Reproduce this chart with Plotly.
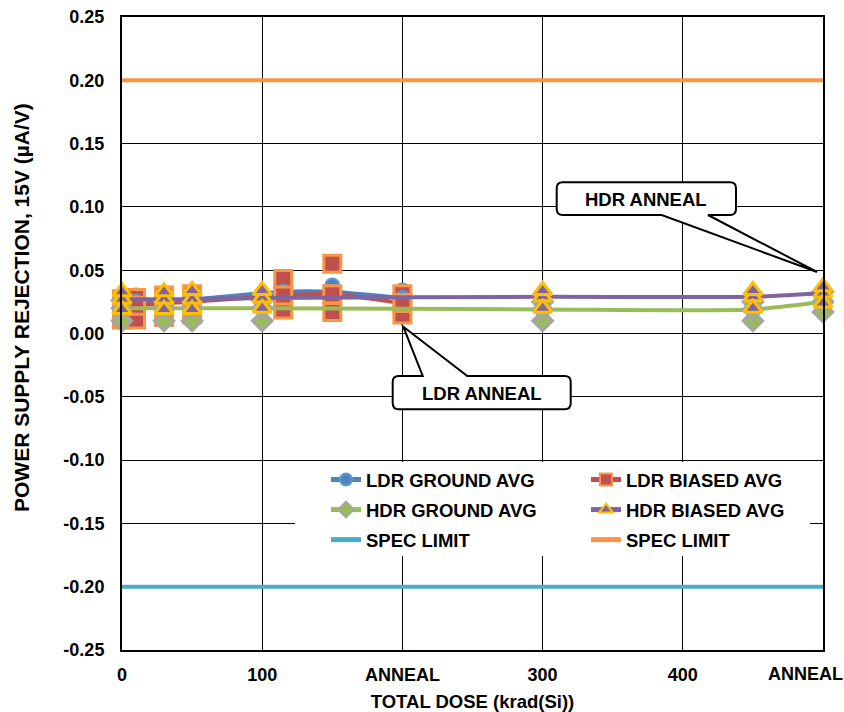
import plotly.graph_objects as go

# ---------------- data ----------------
ldr_dose = [0, 10, 30, 50, 115, 150, 200]
hdr_dose = [0, 30, 50, 100, 300, 450, 500]

ldr_ground_hi = [0.029, 0.030, 0.031, 0.033, 0.036, 0.038, 0.034]
ldr_ground_lo = [0.019, 0.020, 0.021, 0.021, 0.029, 0.028, 0.022]
ldr_ground_avg = [0.025, 0.025, 0.026, 0.027, 0.033, 0.033, 0.028]

ldr_biased_hi = [0.027, 0.028, 0.030, 0.031, 0.043, 0.055, 0.031]
ldr_biased_lo = [0.011, 0.011, 0.013, 0.015, 0.019, 0.017, 0.015]
ldr_biased_avg = [0.022, 0.022, 0.024, 0.025, 0.030, 0.031, 0.024]

hdr_ground_hi = [0.026, 0.026, 0.026, 0.026, 0.025, 0.025, 0.033]
hdr_ground_lo = [0.010, 0.010, 0.010, 0.010, 0.010, 0.010, 0.017]
hdr_ground_avg = [0.020, 0.020, 0.020, 0.020, 0.019, 0.019, 0.025]

hdr_biased_hi = [0.033, 0.033, 0.034, 0.034, 0.034, 0.034, 0.037]
hdr_biased_lo = [0.019, 0.019, 0.019, 0.020, 0.020, 0.020, 0.024]
hdr_biased_avg = [0.027, 0.027, 0.027, 0.028, 0.029, 0.029, 0.032]

spec_x = [0, 500]
spec_low = [-0.20, -0.20]
spec_high = [0.20, 0.20]

x_tickvals = [0, 100, 200, 300, 400, 500]
x_ticktext = ["0", "100", "ANNEAL", "300", "400", ""]
x_last_label = "ANNEAL"
y_tickvals = [0.25, 0.20, 0.15, 0.10, 0.05, 0.00, -0.05, -0.10, -0.15, -0.20, -0.25]
y_ticktext = ["0.25", "0.20", "0.15", "0.10", "0.05", "0.00", "-0.05", "-0.10", "-0.15", "-0.20", "-0.25"]

# ---------------- styles ----------------
FONT = "Liberation Sans, Arial, sans-serif"
FS = 18.5
FT = 18
BLUE, RED, GREEN, PURPLE = "#4F81BD", "#C0504D", "#9BBB59", "#8064A2"
ORANGE, YELLOW, GRAY, CYAN = "#F79646", "#FFC000", "#A5A5A5", "#4BACC6"

styles = {
    "ldr_g": dict(symbol="circle", size=14, color=BLUE, line=dict(color="#5B9BD5", width=2)),
    "ldr_b": dict(symbol="square", size=17, color=RED, line=dict(color=ORANGE, width=3)),
    "hdr_g": dict(symbol="diamond", size=15, color=GREEN, line=dict(color=GRAY, width=3)),
    "hdr_b": dict(symbol="triangle-up", size=16, color=PURPLE, line=dict(color=YELLOW, width=3)),
}

fig = go.Figure()


def units(x, hi, lo, key):
    for arr in (hi, lo):
        fig.add_trace(go.Scatter(x=x, y=arr, mode="markers", marker=styles[key],
                                 showlegend=False, cliponaxis=False, hoverinfo="skip"))


def avg(x, y, key, color, name, legend):
    fig.add_trace(go.Scatter(x=x, y=y, mode="lines+markers", name=name, legendgroup=name,
                             line=dict(color=color, width=4, shape="spline", smoothing=0.6),
                             marker=styles[key], cliponaxis=False, legend=legend))


units(ldr_dose, ldr_ground_hi, ldr_ground_lo, "ldr_g")
units(ldr_dose, ldr_biased_hi, ldr_biased_lo, "ldr_b")
avg(ldr_dose, ldr_ground_avg, "ldr_g", BLUE, "LDR GROUND AVG", "legend")
avg(ldr_dose, ldr_biased_avg, "ldr_b", RED, "LDR BIASED AVG", "legend2")
units(hdr_dose, hdr_ground_hi, hdr_ground_lo, "hdr_g")
avg(hdr_dose, hdr_ground_avg, "hdr_g", GREEN, "HDR GROUND AVG", "legend")
avg(hdr_dose, hdr_biased_avg, "hdr_b", PURPLE, "HDR BIASED AVG", "legend2")
units(hdr_dose, hdr_biased_hi, hdr_biased_lo, "hdr_b")

fig.add_trace(go.Scatter(x=spec_x, y=spec_low, mode="lines", name="SPEC LIMIT", legendgroup="spec_lo",
                         line=dict(color=CYAN, width=4), legend="legend"))
fig.add_trace(go.Scatter(x=spec_x, y=spec_high, mode="lines", name="SPEC LIMIT", legendgroup="spec_hi",
                         line=dict(color=ORANGE, width=4), legend="legend2"))

# ---------------- layout ----------------
PAGE_W, PAGE_H = 844, 712
L, R, T, B = 122, 823, 17, 650
W, H = R - L, B - T


def px(x, y):
    return (x - L) / W, (B - y) / H


def callout_path(bl, br, bt, bb, base_a, base_b, tip, side, r=6):
    def p(x, y):
        xx, yy = px(x, y)
        return f"{xx:.5f},{yy:.5f}"
    d = f"M {p(bl + r, bt)} "
    if side == "top":
        d += f"L {p(base_a, bt)} L {p(*tip)} L {p(base_b, bt)} "
    d += f"L {p(br - r, bt)} Q {p(br, bt)} {p(br, bt + r)} L {p(br, bb - r)} Q {p(br, bb)} {p(br - r, bb)} "
    if side == "bottom":
        d += f"L {p(base_b, bb)} L {p(*tip)} L {p(base_a, bb)} "
    d += f"L {p(bl + r, bb)} Q {p(bl, bb)} {p(bl, bb - r)} L {p(bl, bt + r)} Q {p(bl, bt)} {p(bl + r, bt)} Z"
    return d


shapes = []
lx0, ly0 = px(295, 556)
lx1, ly1 = px(810, 462)
shapes.append(dict(type="rect", xref="paper", yref="paper", x0=lx0, x1=lx1, y0=ly0, y1=ly1,
                   fillcolor="white", line=dict(width=0), layer="above"))
shapes.append(dict(type="path", xref="paper", yref="paper",
                   path=callout_path(556.7, 736, 182.3, 215, 661.7, 708, (817, 272), "bottom"),
                   fillcolor="white", line=dict(color="black", width=2), layer="above"))
shapes.append(dict(type="path", xref="paper", yref="paper",
                   path=callout_path(392.7, 570.7, 376, 409.3, 422.7, 467.3, (403.3, 326.7), "top"),
                   fillcolor="white", line=dict(color="black", width=2), layer="above"))

bold = dict(family=FONT, size=FS, color="black", weight="bold")
tickbold = dict(family=FONT, size=FT, color="black", weight="bold")
ax1, ay1 = px(646, 199)
ax2, ay2 = px(482, 393)
alx, aly = px(805, 673.5)
ytx, yty = px(21, 308)
annotations = [
    dict(x=ax1, y=ay1, xref="paper", yref="paper", text="HDR ANNEAL", showarrow=False,
         xanchor="center", yanchor="middle", font=bold),
    dict(x=ax2, y=ay2, xref="paper", yref="paper", text="LDR ANNEAL", showarrow=False,
         xanchor="center", yanchor="middle", font=bold),
    dict(x=alx, y=aly, xref="paper", yref="paper", text=x_last_label, showarrow=False,
         xanchor="center", yanchor="middle", font=tickbold),
    dict(x=ytx, y=yty, xref="paper", yref="paper", text="POWER SUPPLY REJECTION, 15V (µA/V)",
         showarrow=False, textangle=-90, xanchor="center", yanchor="middle",
         font=dict(family=FONT, size=21, color="black", weight="bold")),
]

leg1x, legy = px(326, 461)
leg2x, _ = px(586, 461)
legend_common = dict(bgcolor="rgba(0,0,0,0)", borderwidth=0, yanchor="top", xanchor="left",
                     font=bold, itemsizing="constant", tracegroupgap=3, traceorder="grouped")

fig.update_layout(
    width=PAGE_W, height=PAGE_H,
    margin=dict(l=L, r=PAGE_W - R, t=T, b=PAGE_H - B, autoexpand=False),
    paper_bgcolor="white", plot_bgcolor="white",
    font=dict(family=FONT, size=FS, color="black", weight="bold"),
    showlegend=True,
    legend=dict(x=leg1x, y=legy, **legend_common),
    legend2=dict(x=leg2x, y=legy, **legend_common),
    shapes=shapes,
    annotations=annotations,
    xaxis=dict(range=[0, 500], tickvals=x_tickvals, ticktext=x_ticktext, automargin=False,
               showgrid=True, gridcolor="black", gridwidth=1, zeroline=False,
               showline=True, linecolor="black", linewidth=2, mirror=True, ticks="",
               ticklabelstandoff=7, ticklabeloverflow="allow",
               title=dict(text="TOTAL DOSE (krad(Si))", standoff=14,
                          font=dict(family=FONT, size=FS, weight="bold")),
               tickfont=tickbold),
    yaxis=dict(range=[-0.25, 0.25], tickvals=y_tickvals, ticktext=y_ticktext, automargin=False,
               showgrid=True, gridcolor="black", gridwidth=1, zeroline=False,
               showline=True, linecolor="black", linewidth=2, mirror=True, ticks="",
               ticklabelstandoff=12, ticklabeloverflow="allow",
               tickfont=tickbold),
)

fig.write_html("out.html", config={"displayModeBar": False},
               post_script="document.body.style.margin='0';document.body.style.overflow='hidden';")
